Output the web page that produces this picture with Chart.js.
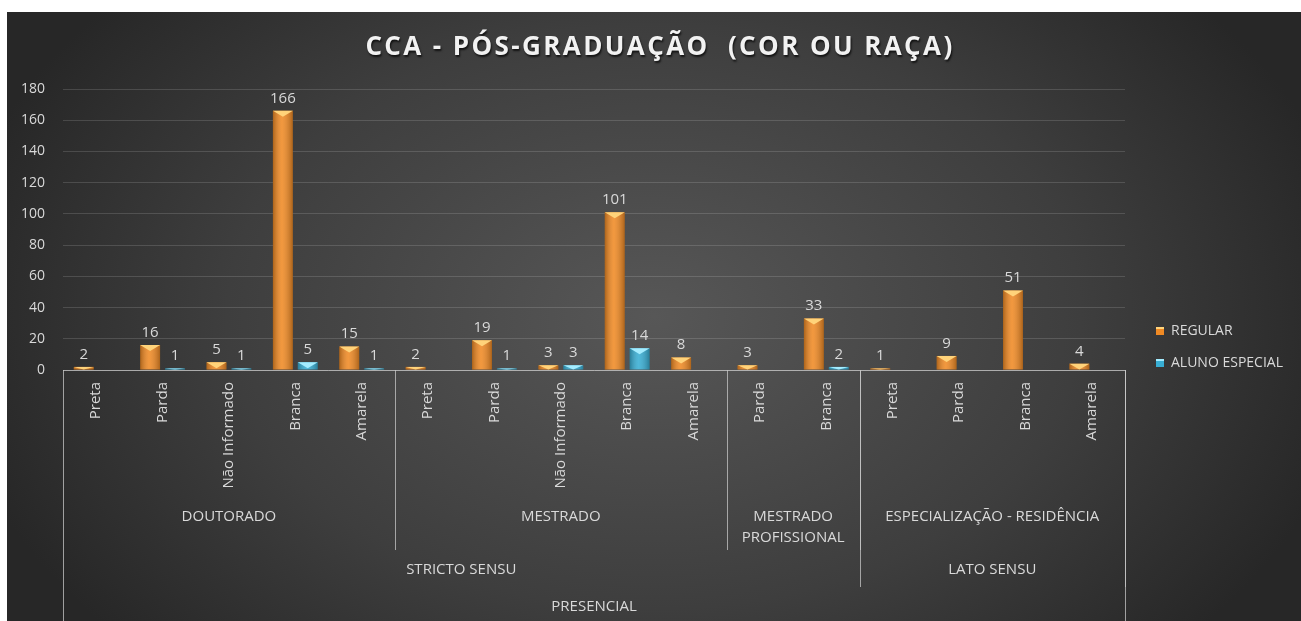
<!DOCTYPE html>
<html>
<head>
<meta charset="utf-8">
<script src="https://cdn.jsdelivr.net/npm/chart.js@4"></script>
<style>
  body { margin: 0; background: #fff; }
  #wrap {
    position: absolute; left: 7px; top: 12px; width: 1294px; height: 609px;
    background: radial-gradient(ellipse 55% 80% at 50% 50%, #575757 0%, #3e3e3e 60%, #272727 100%);
  }
</style>
</head>
<body>
<div id="wrap"><canvas id="myChart" width="1294" height="609"></canvas></div>
<script>
// categories (cor ou raça) in axis order
const categories = ['Preta', 'Parda', 'Não Informado', 'Branca', 'Amarela',
                    'Preta', 'Parda', 'Não Informado', 'Branca', 'Amarela',
                    'Parda', 'Branca',
                    'Preta', 'Parda', 'Branca', 'Amarela'];
const regular = [2, 16, 5, 166, 15, 2, 19, 3, 101, 8, 3, 33, 1, 9, 51, 4];
const alunoEspecial = [null, 1, 1, 5, 1, null, 1, 3, 14, null, null, 2, null, null, null, null];

// upper levels of the axis
const courseLabels = [['DOUTORADO'], ['MESTRADO'], ['MESTRADO', 'PROFISSIONAL'], ['ESPECIALIZAÇÃO - RESIDÊNCIA']];
const courseSizes = [5, 5, 2, 4];
const sensuLabels = ['STRICTO SENSU', 'LATO SENSU'];
const sensuSizes = [12, 4];
const modeLabels = ['PRESENCIAL'];
const modeSizes = [16];

const yTicks = [0, 20, 40, 60, 80, 100, 120, 140, 160, 180];
const titleText = 'CCA - PÓS-GRADUAÇÃO  (COR OU RAÇA)';

const textColor = '#d9d9d9';
const lineColor = 'rgba(200,200,200,0.75)';
const fontFamily = "'Open Sans', sans-serif";

// title with wide letter spacing (chart.js title can't do that)
const wideTitle = {
  id: 'wideTitle',
  afterDraw(chart) {
    const ctx = chart.ctx;
    ctx.save();
    ctx.font = 'bold 26px ' + fontFamily;
    ctx.letterSpacing = '2.4px';
    ctx.textAlign = 'center';
    ctx.textBaseline = 'middle';
    ctx.shadowColor = 'rgba(0,0,0,0.7)';
    ctx.shadowOffsetX = 1;
    ctx.shadowOffsetY = 2;
    ctx.shadowBlur = 2;
    ctx.fillStyle = '#f2f2f2';
    ctx.fillText(titleText, 653, 36);
    ctx.restore();
  }
};

// value labels above bars + a bit of shading on the bars
const barDecor = {
  id: 'barDecor',
  afterDatasetsDraw(chart) {
    const ctx = chart.ctx;
    chart.data.datasets.forEach((ds, di) => {
      const meta = chart.getDatasetMeta(di);
      meta.data.forEach((bar, i) => {
        const v = ds.data[i];
        if (v === null || v === undefined) return;
        const left = bar.x - bar.width / 2;
        const h = bar.base - bar.y;
        ctx.save();
        const g = ctx.createLinearGradient(left, 0, left + bar.width, 0);
        g.addColorStop(0, 'rgba(0,0,0,0.28)');
        g.addColorStop(0.45, 'rgba(255,255,255,0.12)');
        g.addColorStop(1, 'rgba(0,0,0,0.28)');
        ctx.fillStyle = g;
        ctx.fillRect(left, bar.y, bar.width, h);
        // lighter top face
        const th = Math.min(6, h);
        ctx.beginPath();
        ctx.moveTo(left, bar.y);
        ctx.lineTo(left + bar.width, bar.y);
        ctx.lineTo(bar.x, bar.y + th);
        ctx.closePath();
        ctx.fillStyle = ds.topColor;
        ctx.fill();
        // value
        ctx.fillStyle = textColor;
        ctx.font = '15px ' + fontFamily;
        ctx.textAlign = 'center';
        ctx.textBaseline = 'bottom';
        ctx.fillText(String(v), bar.x, bar.y - 5);
        ctx.restore();
      });
    });
  }
};

// multi level category axis + legend
const groupAxis = {
  id: 'groupAxis',
  afterDraw(chart) {
    const ctx = chart.ctx;
    const x = chart.scales.x;
    const top = x.top;
    const bottom = chart.height;
    function edge(i) {
      if (i <= 0) return x.left;
      if (i >= categories.length) return x.right;
      return (x.getPixelForValue(i - 1) + x.getPixelForValue(i)) / 2;
    }
    function vline(px, y2) {
      ctx.beginPath();
      ctx.moveTo(Math.round(px) + 0.5, top);
      ctx.lineTo(Math.round(px) + 0.5, y2);
      ctx.stroke();
    }
    ctx.save();
    ctx.strokeStyle = lineColor;
    ctx.lineWidth = 1;
    ctx.fillStyle = textColor;
    ctx.font = '15px ' + fontFamily;
    ctx.textAlign = 'center';
    ctx.textBaseline = 'middle';

    let start = 0;
    courseLabels.forEach((lines, k) => {
      const a = edge(start), b = edge(start + courseSizes[k]);
      lines.forEach((t, j) => ctx.fillText(t, (a + b) / 2, 505 + j * 21));
      start += courseSizes[k];
      vline(b, 538);
    });
    start = 0;
    sensuLabels.forEach((t, k) => {
      const a = edge(start), b = edge(start + sensuSizes[k]);
      ctx.fillText(t, (a + b) / 2, 558);
      start += sensuSizes[k];
      vline(b, 575);
    });
    start = 0;
    modeLabels.forEach((t, k) => {
      const a = edge(start), b = edge(start + modeSizes[k]);
      ctx.fillText(t, (a + b) / 2, 595);
      vline(a, bottom);
      vline(b, bottom);
      start += modeSizes[k];
    });

    // legend
    ctx.font = '14px ' + fontFamily;
    ctx.textAlign = 'left';
    chart.data.datasets.forEach((ds, i) => {
      const ly = 319 + i * 32;
      ctx.fillStyle = ds.backgroundColor;
      ctx.fillRect(1149, ly - 4, 8, 8);
      ctx.fillStyle = ds.topColor;
      ctx.fillRect(1149, ly - 4, 8, 2);
      ctx.fillStyle = textColor;
      ctx.fillText(ds.label, 1164, ly);
    });
    ctx.restore();
  }
};

const ctx = document.getElementById('myChart').getContext('2d');
const chart = new Chart(ctx, {
  type: 'bar',
  data: {
    labels: categories,
    datasets: [
      { label: 'REGULAR', data: regular, backgroundColor: '#f08a24', topColor: '#ffd37a' },
      { label: 'ALUNO ESPECIAL', data: alunoEspecial, backgroundColor: '#38aed4', topColor: '#a4ecff' }
    ]
  },
  options: {
    responsive: false,
    animation: false,
    layout: { padding: { left: 0, right: 176, top: 77, bottom: 0 } },
    categoryPercentage: 0.75,
    barPercentage: 0.8,
    plugins: {
      legend: { display: false },
      tooltip: { enabled: false },
      title: { display: false }
    },
    scales: {
      x: {
        grid: { display: false, drawTicks: false },
        border: { display: true, color: lineColor, width: 1 },
        ticks: {
          color: textColor, font: { family: fontFamily, size: 15 },
          minRotation: 90, maxRotation: 90, autoSkip: false, padding: 12
        },
        afterFit(scale) { scale.height = 251; }
      },
      y: {
        min: 0, max: 180,
        grid: { color: 'rgba(255,255,255,0.14)', drawTicks: false },
        border: { display: false },
        ticks: { color: textColor, font: { family: fontFamily, size: 14 }, padding: 18, stepSize: 20 },
        afterBuildTicks(scale) { scale.ticks = yTicks.map(v => ({ value: v })); },
        afterFit(scale) { scale.width = 56; }
      }
    }
  },
  plugins: [barDecor, groupAxis, wideTitle]
});
</script>
</body>
</html>
